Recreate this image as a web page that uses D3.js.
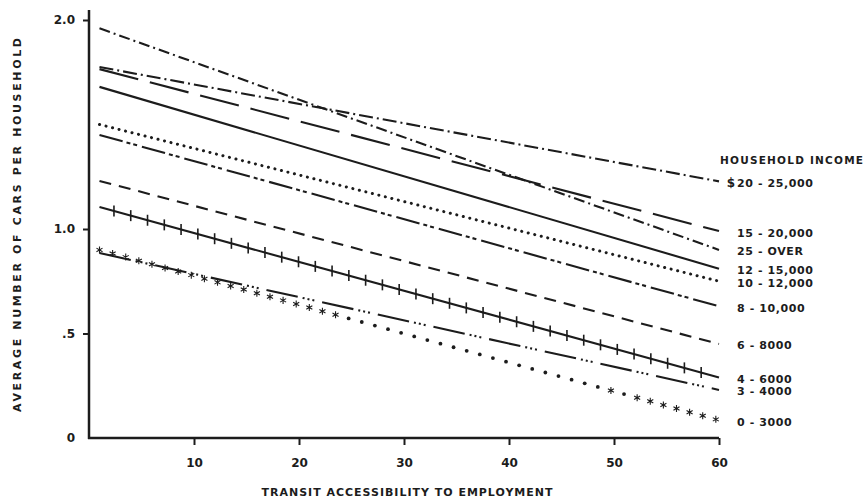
<!DOCTYPE html>
<html>
<head>
<meta charset="utf-8">
<script src="https://cdn.jsdelivr.net/npm/d3@7"></script>
<style>
  body { margin: 0; background: #fff; }
  svg text { font-family: "DejaVu Sans", sans-serif; fill: #1c1c1c; font-weight: bold; }
</style>
</head>
<body>
<svg id="chart" width="864" height="498"></svg>
<script>
// transit accessibility at the two ends of each fitted line
var accessibility = [1, 60];

// average cars per household, one pair per income group (start, end)
var income2025  = [1.775, 1.228];
var income1520  = [1.765, 0.99];
var income25up  = [1.96, 0.90];
var income1215  = [1.68, 0.81];
var income1012  = [1.50, 0.75];
var income810   = [1.45, 0.63];
var income68    = [1.23, 0.45];
var income46    = [1.105, 0.29];
var income34    = [0.885, 0.23];
var income03    = [0.90, 0.085];

var incomeLabels = ["20-25,000", "15-20,000", "25- OVER", "12-15,000", "10-12,000",
                    "8-10,000", "6-8000", "4-6000", "3-4000", "0-3000"];
var incomeValues = [income2025, income1520, income25up, income1215, income1012,
                    income810, income68, income46, income34, income03];

var xTicks = [10, 20, 30, 40, 50, 60];
var yTicks = [0, 0.5, 1, 2];
var yTickLabels = ["0", ".5", "1.0", "2.0"];

// line styles, same order as the groups
var dashes = ["14,4,2,4", "40,12", "11,4,2,4", null, "0.1,6.6",
              "24,4,4,3,4,5", "12,8", null, "32,5,2,3,2,3,2,8", "0,1000"];

const svg = d3.select("#chart"),
      ink = "#1c1c1c",
      x   = d3.scaleLinear().domain([0, 60]).range([89, 719]),
      y   = d3.scaleLinear().domain([0, 2]).range([438, 20]);

// axes
svg.append("line")
    .attr("x1", x(0)).attr("x2", x(0))
    .attr("y1", 10).attr("y2", y(0) + 1)
    .attr("stroke", ink).attr("stroke-width", 2.5);
svg.append("line")
    .attr("x1", x(0) - 1).attr("x2", x(60))
    .attr("y1", y(0)).attr("y2", y(0))
    .attr("stroke", ink).attr("stroke-width", 2.5);

const gx = svg.append("g")
    .attr("transform", `translate(0,${y(0)})`)
    .call(d3.axisBottom(x).tickValues(xTicks).tickSize(7).tickPadding(13).tickFormat(d3.format("d")));
gx.select(".domain").remove();

const gy = svg.append("g")
    .attr("transform", `translate(${x(0)},0)`)
    .call(d3.axisLeft(y).tickValues(yTicks).tickSize(6).tickPadding(8)
          .tickFormat((d, i) => yTickLabels[i]));
gy.select(".domain").remove();
gy.selectAll(".tick").filter(d => d === 0).select("line").remove();

svg.selectAll(".tick line").attr("stroke", ink).attr("stroke-width", 2);
svg.selectAll(".tick text")
    .attr("fill", ink)
    .style("font-family", "DejaVu Sans, sans-serif")
    .style("font-weight", "bold")
    .style("font-size", "12px");

// axis titles
svg.append("text")
    .attr("x", 407).attr("y", 496)
    .attr("text-anchor", "middle")
    .attr("textLength", 291).attr("lengthAdjust", "spacing")
    .style("font-size", "11px")
    .text("TRANSIT  ACCESSIBILITY  TO  EMPLOYMENT");

svg.append("text")
    .attr("transform", "translate(21,225) rotate(-90)")
    .attr("text-anchor", "middle")
    .attr("textLength", 374).attr("lengthAdjust", "spacing")
    .style("font-size", "11px")
    .text("AVERAGE  NUMBER  OF  CARS  PER  HOUSEHOLD");

// lines
const line = d3.line().x((d, i) => x(accessibility[i])).y(d => y(d));

const paths = svg.append("g").selectAll("path")
    .data(incomeValues)
    .enter().append("path")
      .attr("d", d => line(d))
      .attr("fill", "none")
      .attr("stroke", ink)
      .attr("stroke-width", (d, i) => i === 4 ? 3 : 2.1)
      .attr("stroke-linecap", (d, i) => i === 4 ? "round" : "butt")
      .attr("stroke-dasharray", (d, i) => dashes[i]);

// cross ticks on the 4-6000 line
const crossPath = paths.nodes()[7],
      crossLen = crossPath.getTotalLength(),
      crossPts = d3.range(15, crossLen - 8, 17.4).map(l => crossPath.getPointAtLength(l));
svg.append("g").selectAll("line")
    .data(crossPts)
    .enter().append("line")
      .attr("x1", p => p.x).attr("x2", p => p.x)
      .attr("y1", p => p.y - 5.5).attr("y2", p => p.y + 5.5)
      .attr("stroke", ink).attr("stroke-width", 1.6);

// asterisks on the ends of the 0-3000 line, dots in the middle
const starPath = paths.nodes()[9],
      starLen = starPath.getTotalLength(),
      starPts = d3.range(0, starLen, 13.6).map(l => starPath.getPointAtLength(l));
const star = d3.symbol(d3.symbolAsterisk, 34)();
svg.append("g").selectAll("g")
    .data(starPts)
    .enter().append("g")
      .attr("transform", p => `translate(${p.x},${p.y})`)
      .each(function(p, i) {
        const a = x.invert(p.x);
        const dot = (a > 24.5 && a < 49) || (a >= 49 && a < 53 && i % 2 === 0);
        if (dot) {
          d3.select(this).append("circle").attr("r", 1.9).attr("fill", ink);
        } else {
          d3.select(this).append("path").attr("d", star)
            .attr("fill", "none").attr("stroke", ink).attr("stroke-width", 1.1);
        }
      });

// right hand labels
svg.append("text")
    .attr("x", 720).attr("y", 164)
    .attr("textLength", 143).attr("lengthAdjust", "spacing")
    .style("font-size", "10.5px")
    .text("HOUSEHOLD  INCOME");

svg.append("g").selectAll("text")
    .data(incomeValues)
    .enter().append("text")
      .attr("x", x(60) + 18)
      .attr("y", d => y(d[1]) + 2)
      .attr("dominant-baseline", "central")
      .style("font-size", "11px")
      .style("letter-spacing", "0.6px")
      .text((d, i) => incomeLabels[i].replace("-", " - ").replace("  ", " "));

svg.append("text")
    .attr("x", x(60) + 16).attr("y", y(income2025[1]) + 2)
    .attr("text-anchor", "end")
    .attr("dominant-baseline", "central")
    .style("font-size", "12px")
    .text("$");
</script>
</body>
</html>
